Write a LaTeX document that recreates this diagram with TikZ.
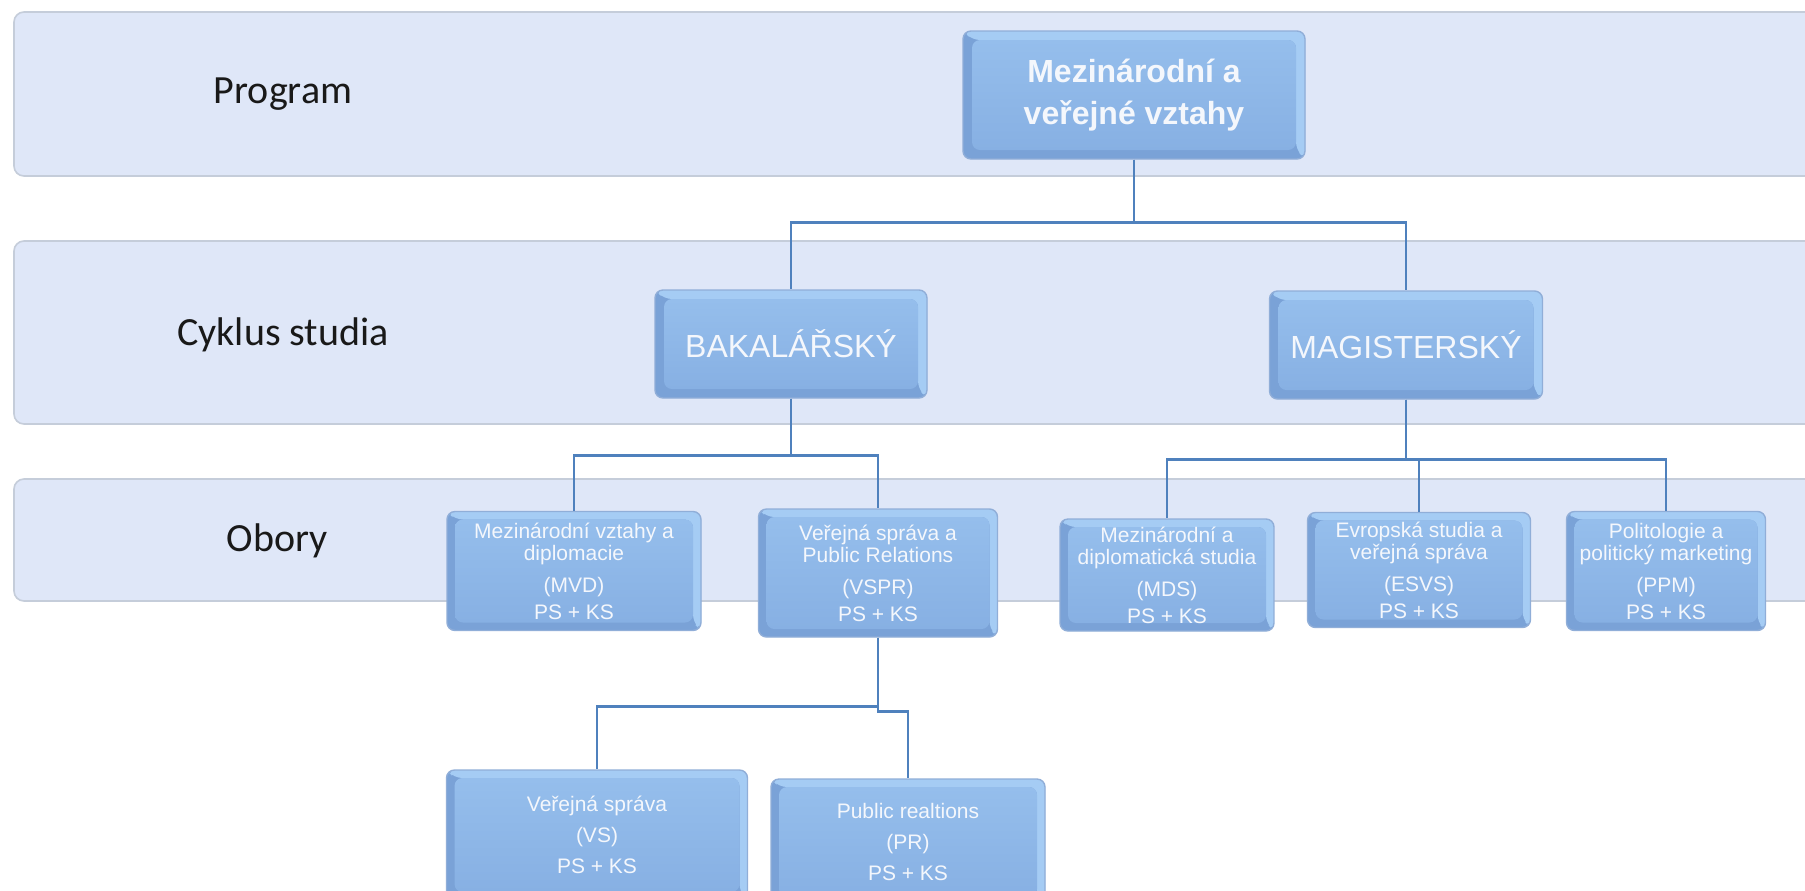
\documentclass[tikz,border=0pt]{standalone}
\usepackage{fontspec}
\setmainfont{Liberation Sans}
\newfontfamily\calib{Carlito}
\usetikzlibrary{calc}
\definecolor{bandfill}{HTML}{DFE7F8}
\definecolor{bandedge}{HTML}{C5CDDA}
\definecolor{facetop}{HTML}{95BEEC}
\definecolor{facebot}{HTML}{87B0E3}
\definecolor{bvlight}{HTML}{A5CCF4}
\definecolor{bvdark}{HTML}{7AA2D7}
\definecolor{boxedge}{HTML}{90AED8}
\definecolor{conncol}{HTML}{4F81BD}
\definecolor{txtw}{HTML}{F4F7FC}
\tikzset{
 band/.style={fill=bandfill, draw=bandedge, line width=0.8pt, rounded corners=5pt},
 bandlabel/.style={font=\calib\fontsize{20}{24}\selectfont, text=black!90},
 bevelbox/.style={rounded corners=4pt, draw=boxedge, line width=0.7pt, text=txtw, align=center, inner sep=0pt,
   path picture={
     \fill[bvdark] (path picture bounding box.south west) rectangle (path picture bounding box.north east);
     \fill[bvlight] (path picture bounding box.north west) -- (path picture bounding box.north east) -- (path picture bounding box.south east) -- ([xshift=-#1,yshift=#1]path picture bounding box.south east) -- ([xshift=-#1,yshift=-#1]path picture bounding box.north east) -- ([xshift=#1,yshift=-#1]path picture bounding box.north west) -- cycle;
     \shade[top color=facetop, bottom color=facebot] ([xshift=#1,yshift=#1]path picture bounding box.south west) rectangle ([xshift=-#1,yshift=-#1]path picture bounding box.north east);
   }},
 lvlthree/.style={bevelbox=4pt, font=\fontsize{10.5}{11}\selectfont},
 lvlfour/.style={bevelbox=4pt, font=\fontsize{10.5}{15.5}\selectfont},
 conn/.style={draw=conncol, line width=1.4pt},
}
\begin{document}
\begin{tikzpicture}[x=0.5pt,y=-0.5pt]
\clip (0,0) rectangle (1805,890);
\fill[white] (0,0) rectangle (1805,890);
% bands
\draw[band] (14,12) rectangle (1850,176);
\draw[band] (14,241) rectangle (1850,424);
\draw[band] (14,479) rectangle (1850,601);
\node[bandlabel] (lprog) at (283,94) {Program};
\node[bandlabel] (lcyk) at (283,335) {Cyklus studia};
\node[bandlabel] (lobo) at (277,541) {Obory};
% boxes
\node[bevelbox=4.5pt, minimum width=171pt, minimum height=64pt, font=\bfseries\fontsize{16}{21}\selectfont] (top) at (1134,95) {Mezinárodní a\\veřejné vztahy};
\node[bevelbox=4.5pt, minimum width=136pt, minimum height=54pt, font=\fontsize{16}{19}\selectfont] (bak) at (791,344) {BAKALÁŘSKÝ};
\node[bevelbox=4.5pt, minimum width=136.5pt, minimum height=54pt, font=\fontsize{16}{19}\selectfont] (mag) at (1406,345) {MAGISTERSKÝ};
\node[lvlthree, minimum width=127pt, minimum height=59.5pt] (mvd) at (574,571) {Mezinárodní vztahy a\\diplomacie\\[5pt](MVD)\\[2.5pt]PS + KS};
\node[lvlthree, minimum width=119.5pt, minimum height=64pt] (vspr) at (878,573) {Veřejná správa a\\Public Relations\\[5pt](VSPR)\\[2.5pt]PS + KS};
\node[lvlthree, minimum width=107pt, minimum height=56pt] (mds) at (1167,575) {Mezinárodní a\\diplomatická studia\\[5pt](MDS)\\[2.5pt]PS + KS};
\node[lvlthree, minimum width=111.5pt, minimum height=57.5pt] (esvs) at (1419,570) {Evropská studia a\\veřejná správa\\[5pt](ESVS)\\[2.5pt]PS + KS};
\node[lvlthree, minimum width=99.5pt, minimum height=59.5pt] (ppm) at (1666,571) {Politologie a\\politický marketing\\[5pt](PPM)\\[2.5pt]PS + KS};
\node[lvlfour, minimum width=150.5pt, minimum height=65pt] (vs) at (597,835) {Veřejná správa\\(VS)\\PS + KS};
\node[lvlfour, minimum width=137pt, minimum height=63pt] (pr) at (908,842) {Public realtions\\(PR)\\PS + KS};
% connectors
\draw[conn] (top.south) -- ++(0,63) -| (bak.north);
\draw[conn] (top.south) -- ++(0,63) -| (mag.north);
\draw[conn] (bak.south) -- ++(0,57) -| (mvd.north);
\draw[conn] (bak.south) -- ++(0,57) -| (vspr.north);
\draw[conn] (mag.south) -- ++(0,60) -| (mds.north);
\draw[conn] (mag.south) -- ++(0,60) -| (esvs.north);
\draw[conn] (mag.south) -- ++(0,60) -| (ppm.north);
\draw[conn] (vspr.south) -- ++(0,69) -| (vs.north);
\draw[conn] (vspr.south) -- ++(0,74) -| (pr.north);
\end{tikzpicture}
\end{document}
